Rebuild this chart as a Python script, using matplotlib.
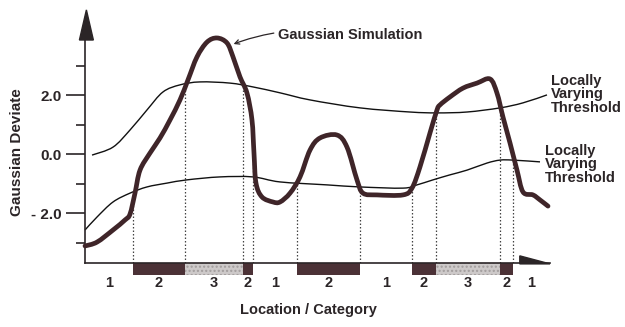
import numpy as np
import matplotlib
matplotlib.use("Agg")
import matplotlib.pyplot as plt
from matplotlib.patches import Rectangle, Polygon, PathPatch
from matplotlib.path import Path

plt.rcParams['font.family'] = ['Liberation Sans', 'DejaVu Sans']
plt.rcParams['font.weight'] = 'bold'

# simulated Gaussian deviate along the profile
sim_x = [0.0, 2.58, 6.02, 8.60, 9.68, 10.75, 11.83, 13.98, 16.13, 18.28, 20.43,
         22.15, 24.09, 26.24, 28.39, 30.54, 31.83, 33.33, 34.84, 35.91, 36.34,
         36.77, 38.06, 40.43, 41.94, 44.09, 46.24, 48.39, 50.54, 54.19, 56.34,
         58.49, 59.78, 62.80, 68.39, 70.32, 72.04, 74.19, 75.70, 76.34, 78.49,
         81.29, 84.30, 87.10, 88.60, 89.89, 91.40, 92.90, 94.19, 96.34, 97.85,
         99.57]
sim_y = [-3.10, -2.97, -2.56, -2.22, -2.02, -1.31, -0.53, 0.05, 0.56, 1.17, 1.85,
         2.53, 3.31, 3.81, 3.95, 3.78, 3.31, 2.63, 2.08, 1.17, 0.05,
         -0.97, -1.44, -1.61, -1.61, -1.31, -0.76, 0.15, 0.56, 0.66, 0.25,
         -0.86, -1.31, -1.37, -1.37, -1.14, -0.42, 0.73, 1.51, 1.68, 1.95,
         2.25, 2.42, 2.56, 2.08, 1.27, 0.39, -0.53, -1.27, -1.37, -1.54,
         -1.75]

# upper and lower locally varying thresholds
upper_x = [1.51, 6.02, 9.68, 13.33, 16.77, 20.43, 24.73, 31.18, 36.13,
           41.94, 48.39, 59.14, 69.89, 75.70, 82.15, 89.25, 94.19, 99.35]
upper_y = [-0.02, 0.25, 0.83, 1.51, 2.12, 2.36, 2.46, 2.42, 2.29,
           2.09, 1.85, 1.58, 1.44, 1.41, 1.44, 1.58, 1.75, 2.02]
lower_x = [0.0, 2.58, 6.02, 9.68, 13.33, 17.63, 21.94, 29.03, 36.13, 41.94,
           52.04, 59.14, 68.39, 71.40, 74.84, 78.49, 82.15, 86.45, 89.25, 92.04,
           97.85]
lower_y = [-2.56, -2.12, -1.61, -1.31, -1.10, -0.97, -0.86, -0.76, -0.76, -0.93,
           -1.03, -1.10, -1.14, -1.03, -0.86, -0.69, -0.53, -0.29, -0.19, -0.19,
           -0.25]

# category segments along the location axis
bounds = [0.0, 10.32, 21.51, 33.98, 36.13, 45.59, 59.14, 70.32, 75.48, 89.25,
          92.04, 100.0]
cats = [1, 2, 3, 2, 1, 2, 1, 2, 3, 2, 1]

major_ticks = [-2.0, 0.0, 2.0]
major_labels = ['- 2.0', '0.0', '2.0']
minor_ticks = [-3.0, -1.0, 1.0, 3.0]

ink = '#2b2527'
curve_col = '#3f2529'
dark_fill = '#4b3136'
light_fill = '#cdc9c9'


def smooth_path(xs, ys, tension=0.5):
    # Catmull-Rom through the points, written as cubic Bezier segments
    p = np.column_stack([xs, ys]).astype(float)
    ext = np.vstack([p[0], p, p[-1]])
    verts = [p[0]]
    codes = [Path.MOVETO]
    for i in range(1, len(ext) - 2):
        p0, p1, p2, p3 = ext[i - 1], ext[i], ext[i + 1], ext[i + 2]
        c1 = p1 + (p2 - p0) * tension / 3
        c2 = p2 - (p3 - p1) * tension / 3
        verts += [c1, c2, p2]
        codes += [Path.CURVE4] * 3
    return Path(verts, codes)


fig = plt.figure(figsize=(6.25, 3.27), dpi=100)
ax = fig.add_axes([85 / 625, 64 / 327, 465 / 625, 223 / 327])
ax.set_xlim(0, 100)
ax.set_ylim(-3.678, 3.881)

for s in ['top', 'right']:
    ax.spines[s].set_visible(False)
for s in ['left', 'bottom']:
    ax.spines[s].set_linewidth(1.2)
    ax.spines[s].set_color(ink)

ax.set_xticks([])
ax.set_yticks(major_ticks)
ax.set_yticklabels(major_labels)
ax.set_yticks(minor_ticks, minor=True)
ax.tick_params(axis='y', which='major', length=13.5, width=1.2, color=ink,
               pad=3.5, labelsize=11, labelcolor=ink)
ax.tick_params(axis='y', which='minor', length=6.5, width=1.2, color=ink)

# axis arrow heads
xt = ax.get_xaxis_transform()
ax.add_patch(Polygon([(-0.012, 1.0), (0.018, 1.0), (0.003, 1.135)], closed=True,
                     transform=ax.transAxes, clip_on=False, color=ink, zorder=5))
ax.add_patch(Polygon([(0.935, 0.032), (1.0, -0.004), (0.935, -0.004)], closed=True,
                     transform=ax.transAxes, clip_on=False, color=ink, zorder=5))

# category bars and labels under the axis
for i, c in enumerate(cats):
    x0, x1 = bounds[i], bounds[i + 1]
    if c == 2:
        ax.add_patch(Rectangle((x0, -0.056), x1 - x0, 0.056, transform=xt,
                               clip_on=False, facecolor=dark_fill, edgecolor='none'))
    elif c == 3:
        ax.add_patch(Rectangle((x0, -0.056), x1 - x0, 0.056, transform=xt,
                               clip_on=False, facecolor=light_fill, edgecolor='#a29d9d',
                               hatch='....', linewidth=0))
    ax.text((x0 + x1) / 2, -0.09, str(c), transform=xt, ha='center', va='center',
            fontsize=10.5, color=ink)

# dotted boundaries from the axis up to the simulated curve
tops = np.interp(bounds[1:-1], sim_x, sim_y)
for b, t in zip(bounds[1:-1], tops):
    ax.plot([b, b], [ax.get_ylim()[0], t], color='#444', lw=0.9,
            ls=(0, (1.2, 1.6)), zorder=1)

for xs, ys in [(upper_x, upper_y), (lower_x, lower_y)]:
    ax.add_patch(PathPatch(smooth_path(xs, ys), fill=False, edgecolor='#111',
                           lw=1.0, zorder=2, clip_on=False))
ax.add_patch(PathPatch(smooth_path(sim_x, sim_y), fill=False, edgecolor=curve_col,
                       lw=3.4, capstyle='round', joinstyle='round', zorder=3,
                       clip_on=False))

ax.annotate('Gaussian Simulation', xy=(31.4, 3.71), xytext=(41.5, 4.05),
            ha='left', va='center', fontsize=10.5, color=ink,
            annotation_clip=False,
            arrowprops=dict(arrowstyle='->', color=ink, lw=0.9,
                            connectionstyle='arc3,rad=0.15', shrinkA=1, shrinkB=2,
                            mutation_scale=8))

ax.text(100.2, 2.04, 'Locally\nVarying\nThreshold', ha='left', va='center',
        fontsize=10.5, color=ink, linespacing=0.95, clip_on=False)
ax.text(99.0, -0.33, 'Locally\nVarying\nThreshold', ha='left', va='center',
        fontsize=10.5, color=ink, linespacing=0.95, clip_on=False)

ax.text(0.48, -0.21, 'Location / Category', transform=ax.transAxes,
        ha='center', va='center', fontsize=10.5, color=ink)
ax.text(-0.146, 0.497, 'Gaussian Deviate', transform=ax.transAxes, rotation=90,
        ha='center', va='center', fontsize=11, color=ink)

fig.savefig('out.png', dpi=100)
